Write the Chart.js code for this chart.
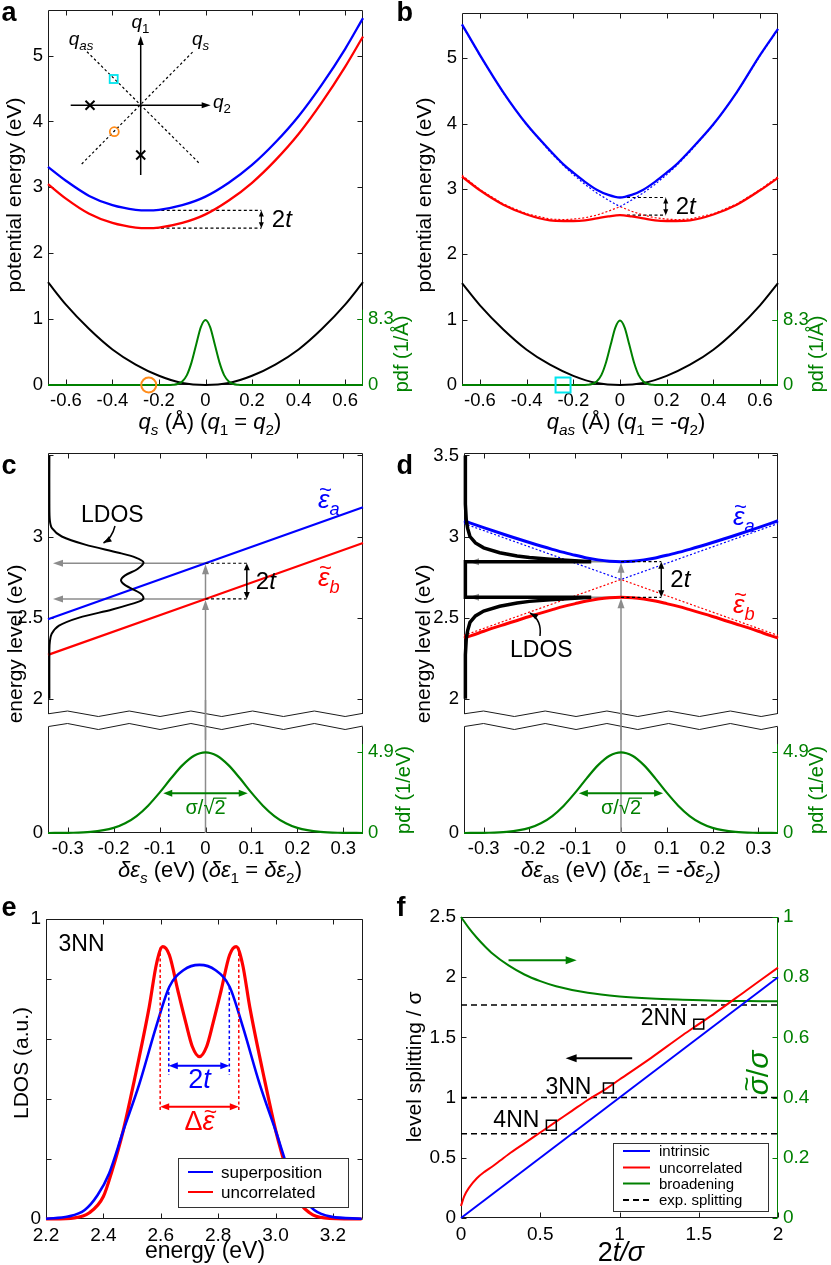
<!DOCTYPE html>
<html>
<head>
<meta charset="utf-8">
<script src="https://cdn.jsdelivr.net/npm/chart.js@4.4.1/dist/chart.umd.min.js"></script>
<style>
  html, body { margin: 0; padding: 0; background: #fff; }
  body { position: relative; width: 831px; height: 1265px; overflow: hidden; }
  canvas { position: absolute; }
</style>
</head>
<body>
<canvas id="cA"></canvas>
<canvas id="cB"></canvas>
<canvas id="cCu"></canvas>
<canvas id="cCl"></canvas>
<canvas id="cDu"></canvas>
<canvas id="cDl"></canvas>
<canvas id="cE"></canvas>
<canvas id="cF"></canvas>
<script>
const FONT = '"Liberation Sans", Arial, Helvetica, sans-serif';
const BLUE = '#0000ff', RED = '#ff0000', GREEN = '#008000', GRAY = '#8c8c8c';
const ORANGE = '#ff8c1a', CYAN = '#00e5ee';

// ---- a / b : potential energy along q ----
const qTicks = [-0.6, -0.4, -0.2, 0, 0.2, 0.4, 0.6];
const qTickLabels = ['-0.6', '-0.4', '-0.2', '0', '0.2', '0.4', '0.6'];
const peTicks = [0, 1, 2, 3, 4, 5];
const peTickLabels = ['0', '1', '2', '3', '4', '5'];
const pdfQTicks = [0, 8.3];
const pdfQTickLabels = ['0', '8.3'];

const groundQ = [-0.677, -0.6, -0.5, -0.4, -0.3, -0.2, -0.1, 0, 0.1, 0.2, 0.3, 0.4, 0.5, 0.6, 0.677];
const groundE = [1.56, 1.22, 0.85, 0.54, 0.31, 0.14, 0.03, 0, 0.03, 0.14, 0.31, 0.54, 0.85, 1.22, 1.56];
const pdfQ = [-0.677, -0.16, -0.14, -0.12, -0.1, -0.08, -0.06, -0.04, -0.02, 0, 0.02, 0.04, 0.06, 0.08, 0.1, 0.12, 0.14, 0.16, 0.677];
const pdfQVal = [0, 0, 0.03, 0.12, 0.45, 1.25, 2.85, 5.1, 7.3, 8.2, 7.3, 5.1, 2.85, 1.25, 0.45, 0.12, 0.03, 0, 0];

const qsGrid = [-0.677, -0.6, -0.5, -0.4, -0.3, -0.25, -0.2, -0.1, 0, 0.1, 0.2, 0.3, 0.4, 0.5, 0.6, 0.677];
const qsUpper = [3.31, 3.10, 2.87, 2.73, 2.66, 2.65, 2.66, 2.73, 2.86, 3.07, 3.34, 3.68, 4.08, 4.56, 5.10, 5.57];
const qsLower = [3.05, 2.83, 2.60, 2.46, 2.39, 2.38, 2.39, 2.46, 2.59, 2.80, 3.07, 3.41, 3.81, 4.29, 4.83, 5.29];

const qasGrid = [-0.677, -0.6, -0.5, -0.4, -0.3, -0.24, -0.2, -0.15, -0.1, -0.05, 0, 0.05, 0.1, 0.15, 0.2, 0.24, 0.3, 0.4, 0.5, 0.6, 0.677];
const qasUpper = [5.52, 5.05, 4.48, 3.99, 3.59, 3.37, 3.25, 3.11, 2.99, 2.91, 2.87, 2.91, 2.99, 3.11, 3.25, 3.37, 3.59, 3.99, 4.48, 5.05, 5.45];
const qasLower = [3.19, 2.98, 2.76, 2.61, 2.52, 2.51, 2.51, 2.52, 2.55, 2.58, 2.60, 2.58, 2.55, 2.52, 2.51, 2.51, 2.52, 2.61, 2.76, 2.98, 3.17];
const qasDiabHi = [5.51, 5.04, 4.47, 3.98, 3.57, 3.35, 3.22, 3.07, 2.94, 2.83, 2.73, 2.83, 2.94, 3.07, 3.22, 3.35, 3.57, 3.98, 4.47, 5.04, 5.44];
const qasDiabLo = [3.21, 2.99, 2.77, 2.62, 2.54, 2.53, 2.54, 2.56, 2.60, 2.66, 2.73, 2.66, 2.60, 2.56, 2.54, 2.53, 2.54, 2.62, 2.77, 2.99, 3.19];
const markQ = [-0.244];
const markE = [0];

// ---- c / d : energy levels vs site energy shift ----
const deTicks = [-0.3, -0.2, -0.1, 0, 0.1, 0.2, 0.3];
const deTickLabels = ['-0.3', '-0.2', '-0.1', '0', '0.1', '0.2', '0.3'];
const levelTicksC = [2, 2.5, 3];
const levelTickLabelsC = ['2', '2.5', '3'];
const levelTicksD = [2, 2.5, 3, 3.5];
const levelTickLabelsD = ['2', '2.5', '3', '3.5'];
const pdfETicks = [0, 4.9];
const pdfETickLabels = ['0', '4.9'];

const deEnds = [-0.343, 0.343];
const cLevelA = [2.49, 3.18];
const cLevelB = [2.27, 2.96];
const cLdosE = [2.0, 2.3, 2.35, 2.4, 2.45, 2.5, 2.55, 2.6, 2.62, 2.65, 2.7, 2.73, 2.76, 2.8, 2.84, 2.87, 2.9, 2.95, 3.0, 3.05, 3.1, 3.2, 3.5];
const cLdosAmp = [0, 0, 0.001, 0.005, 0.021, 0.065, 0.137, 0.196, 0.205, 0.198, 0.165, 0.156, 0.165, 0.192, 0.205, 0.188, 0.151, 0.078, 0.027, 0.006, 0.001, 0, 0];

const dGrid = [-0.343, -0.3, -0.25, -0.2, -0.15, -0.125, -0.1, -0.075, -0.05, -0.025, 0, 0.025, 0.05, 0.075, 0.1, 0.125, 0.15, 0.2, 0.25, 0.3, 0.343];
const dLevelA = [3.097, 3.055, 3.008, 2.963, 2.921, 2.902, 2.884, 2.868, 2.856, 2.848, 2.845, 2.848, 2.856, 2.868, 2.884, 2.902, 2.921, 2.963, 3.008, 3.055, 3.097];
const dLevelB = [2.373, 2.416, 2.462, 2.507, 2.549, 2.569, 2.586, 2.602, 2.614, 2.622, 2.625, 2.622, 2.614, 2.602, 2.586, 2.569, 2.549, 2.507, 2.462, 2.416, 2.373];
const dDiabX = [-0.343, 0, 0.343];
const dDiabA = [3.08, 2.735, 3.08];
const dDiabB = [2.39, 2.735, 2.39];
const dLdosE = [3.5, 3.2, 3.1, 3.05, 3.0, 2.96, 2.93, 2.9, 2.88, 2.87, 2.86, 2.852, 2.845, 2.845, 2.625, 2.625, 2.618, 2.61, 2.6, 2.59, 2.57, 2.54, 2.51, 2.47, 2.42, 2.37, 2.27, 2.0];
const dLdosAmp = [0, 0, 0.002, 0.005, 0.01, 0.022, 0.04, 0.075, 0.113, 0.14, 0.185, 0.23, 0.275, 0, 0, 0.275, 0.23, 0.185, 0.14, 0.113, 0.075, 0.04, 0.022, 0.01, 0.005, 0.002, 0, 0];

const deGrid = [-0.343, -0.3, -0.25, -0.2, -0.175, -0.15, -0.125, -0.1, -0.075, -0.05, -0.025, 0, 0.025, 0.05, 0.075, 0.1, 0.125, 0.15, 0.175, 0.2, 0.25, 0.3, 0.343];
const pdfE = [0, 0.01, 0.065, 0.31, 0.59, 1.03, 1.66, 2.45, 3.32, 4.12, 4.69, 4.9, 4.69, 4.12, 3.32, 2.45, 1.66, 1.03, 0.59, 0.31, 0.065, 0.01, 0];

// ---- e : LDOS for 3NN ----
const energyTicks = [2.2, 2.4, 2.6, 2.8, 3.0, 3.2];
const energyTickLabels = ['2.2', '2.4', '2.6', '2.8', '3.0', '3.2'];
const ldosTicks = [0, 0.2, 0.4, 0.6, 0.8, 1];
const ldosTickLabels = ['0', '', '', '', '', '1'];
const eSupX = [2.2, 2.277, 2.335, 2.38, 2.42, 2.468, 2.526, 2.584, 2.63, 2.68, 2.735, 2.79, 2.84, 2.886, 2.944, 3.002, 3.05, 3.09, 3.135, 3.193, 3.3];
const eSup = [0.001, 0.008, 0.03, 0.08, 0.152, 0.29, 0.452, 0.641, 0.774, 0.83, 0.847, 0.83, 0.774, 0.641, 0.452, 0.29, 0.152, 0.08, 0.03, 0.008, 0.001];
const eUncX = [2.2, 2.3, 2.35, 2.4, 2.43, 2.468, 2.508, 2.56, 2.585, 2.607, 2.63, 2.66, 2.688, 2.71, 2.735, 2.76, 2.782, 2.81, 2.84, 2.863, 2.885, 2.91, 2.962, 3.002, 3.04, 3.07, 3.12, 3.17, 3.3];
const eUnc = [0, 0.004, 0.02, 0.075, 0.16, 0.29, 0.463, 0.708, 0.85, 0.908, 0.88, 0.76, 0.652, 0.575, 0.541, 0.575, 0.652, 0.76, 0.88, 0.908, 0.85, 0.708, 0.463, 0.29, 0.16, 0.075, 0.02, 0.004, 0];

// ---- f : level splitting vs 2t/sigma ----
const ratioTicks = [0, 0.5, 1, 1.5, 2];
const ratioTickLabels = ['0', '0.5', '1', '1.5', '2'];
const splitTicks = [0, 0.5, 1, 1.5, 2, 2.5];
const splitTickLabels = ['0', '0.5', '1', '1.5', '2', '2.5'];
const broadTicks = [0, 0.2, 0.4, 0.6, 0.8, 1];
const broadTickLabels = ['0', '0.2', '0.4', '0.6', '0.8', '1'];
const fIntrX = [0, 2];
const fIntr = [0, 2];
const fUncX = [0, 0.02, 0.05, 0.1, 0.15, 0.2, 0.25, 0.3, 0.4, 0.5, 0.6, 0.7, 0.8, 0.9, 1.0, 1.2, 1.4, 1.5, 1.6, 1.8, 2.0];
const fUnc = [0.1, 0.18, 0.25, 0.33, 0.385, 0.43, 0.48, 0.53, 0.62, 0.71, 0.80, 0.89, 0.98, 1.06, 1.15, 1.33, 1.52, 1.61, 1.70, 1.89, 2.08];
const fBroadX = [0, 0.05, 0.1, 0.15, 0.2, 0.3, 0.4, 0.5, 0.6, 0.8, 1.0, 1.2, 1.4, 1.6, 1.8, 2.0];
const fBroad = [1.0, 0.963, 0.931, 0.903, 0.878, 0.839, 0.809, 0.787, 0.770, 0.748, 0.736, 0.729, 0.725, 0.722, 0.721, 0.72];
const expSplit = [0.7, 1.0, 1.77];
const nnNames = ['4NN', '3NN', '2NN'];
const nnX = [0.57, 0.93, 1.5];
const nnY = [0.77, 1.08, 1.61];

Chart.defaults.font.family = FONT;
Chart.defaults.font.size = 18;
Chart.defaults.color = '#000';
Chart.defaults.animation = false;
Chart.defaults.responsive = false;
Chart.defaults.events = [];
Chart.defaults.plugins.legend.display = false;
Chart.defaults.plugins.tooltip.enabled = false;
Chart.defaults.elements.point.radius = 0;

const xy = (xs, ys) => xs.map((x, i) => ({ x, y: ys[i] }));

function ln(data, color, w, extra) {
  return Object.assign({ data, borderColor: color, borderWidth: w, pointRadius: 0, fill: false,
    cubicInterpolationMode: 'monotone', clip: 4 }, extra);
}
function mark(xs, ys, style, r, color, w) {
  return { data: xy(xs, ys), showLine: false, pointStyle: style, pointRadius: r,
    pointBorderColor: color, pointBorderWidth: w || 2, pointBackgroundColor: 'rgba(0,0,0,0)', clip: false };
}

function axis(min, max, ticks, labels, o = {}) {
  return {
    type: 'linear', min, max, position: o.position, display: o.display !== false,
    grid: { display: false, drawTicks: false }, border: { display: false },
    afterBuildTicks: s => { s.ticks = ticks.map(v => ({ value: v })); },
    afterFit: s => {
      if (s.isHorizontal()) s.height = o.size; else s.width = o.size;
      s.paddingTop = s.paddingBottom = s.paddingLeft = s.paddingRight = 0;
    },
    ticks: { autoSkip: false, maxRotation: 0, minRotation: 0, padding: 5,
      color: o.color || '#000', font: { size: o.fs || 18.5 },
      callback: (v, i) => labels[i] ?? '' },
  };
}

function zigzag(ctx, x0, x1, yHi, yLo) {
  const step = 30.85;
  ctx.beginPath();
  ctx.moveTo(x0, (yHi + yLo) / 2);
  let k = 0, x = x0 + 19;
  while (x < x1) { ctx.lineTo(x, k % 2 ? yLo : yHi); x += step; k++; }
  const py = (k - 1) % 2 ? yLo : yHi, ny = k % 2 ? yLo : yHi;
  ctx.lineTo(x1, py + (ny - py) * (x1 - (x - step)) / step);
  ctx.stroke();
}

function frame(o) {
  return {
    id: 'frame',
    beforeDatasetsDraw(chart) {
      const { ctx, chartArea: a, scales } = chart;
      const L = Math.round(a.left) + 0.5, R = Math.round(a.right) - 0.5;
      const T = Math.round(a.top) + 0.5, B = Math.round(a.bottom) - 0.5;
      const seg = (x1, y1, x2, y2) => { ctx.beginPath(); ctx.moveTo(x1, y1); ctx.lineTo(x2, y2); ctx.stroke(); };
      ctx.save();
      ctx.strokeStyle = '#1a1a1a'; ctx.lineWidth = 1;
      const top = o.zigTop ? T + 3 : T, bot = o.zigBottom ? B - 2.5 : B;
      seg(L, top, L, bot); seg(R, top, R, bot);
      if (!o.zigTop) seg(L, T, R, T);
      if (!o.zigBottom) seg(L, B, R, B);
      if (o.zigTop) zigzag(ctx, L, R, T, T + 6);
      if (o.zigBottom) zigzag(ctx, L, R, B - 5.5, B);
      const TL = 5;
      (o.x || []).forEach(v => {
        const p = Math.round(scales.x.getPixelForValue(v)) + 0.5;
        if (o.xs.includes('b')) seg(p, B, p, B - TL);
        if (o.xs.includes('t')) seg(p, T, p, T + TL);
      });
      (o.y || []).forEach(v => {
        const p = Math.round(scales.y.getPixelForValue(v)) + 0.5;
        if (o.ys.includes('l')) seg(L, p, L + TL, p);
        if (o.ys.includes('r')) seg(R, p, R - TL, p);
      });
      ctx.strokeStyle = GREEN;
      if (o.green) seg(R, scales.y2.getPixelForValue(o.green[0]), R, scales.y2.getPixelForValue(o.green[1]));
      (o.y2 || []).forEach(v => {
        const p = Math.round(scales.y2.getPixelForValue(v)) + 0.5;
        seg(R, p, R - TL, p);
      });
      ctx.restore();
    }
  };
}

function deco(box, under, over) {
  const run = (chart, fn) => {
    if (!fn) return;
    const ctx = chart.ctx;
    const P = (x, y, ax = 'y') => [chart.scales.x.getPixelForValue(x) + box[0], chart.scales[ax].getPixelForValue(y) + box[1]];
    ctx.save(); ctx.translate(-box[0], -box[1]); fn(ctx, P, chart); ctx.restore();
  };
  return { id: 'deco', beforeDatasetsDraw: c => run(c, under), afterDraw: c => run(c, over) };
}

function build(id, box, area, o) {
  const cv = document.getElementById(id);
  cv.width = box[2]; cv.height = box[3];
  cv.style.left = box[0] + 'px'; cv.style.top = box[1] + 'px';
  const t = area[1] - box[1], r = box[0] + box[2] - area[2], b = box[1] + box[3] - area[3];
  const hideX = o.scales.x.display === false;
  return new Chart(cv.getContext('2d'), {
    type: 'line',
    data: { datasets: o.datasets },
    options: {
      layout: { padding: { top: t, left: 0, right: o.scales.y2 ? 0 : r, bottom: hideX ? b : 0 } },
      scales: o.scales,
    },
    plugins: [frame(o.frame), deco(box, o.under, o.over)],
  });
}
const mg = (box, area) => ({ l: area[0] - box[0], t: area[1] - box[1], r: box[0] + box[2] - area[2], b: box[1] + box[3] - area[3] });

// ---------- drawing helpers ----------
function rich(ctx, x, y, parts, o) {
  const size = o.size || 20;
  ctx.save();
  ctx.translate(x, y);
  if (o.rot) ctx.rotate(o.rot);
  ctx.textBaseline = 'alphabetic'; ctx.textAlign = 'left';
  const segs = parts.map(p => {
    const sz = (p.sub || p.sup) ? size * 0.7 : size;
    const font = (p.i ? 'italic ' : '') + (p.b ? 'bold ' : '') + sz + 'px ' + FONT;
    ctx.font = font;
    return { p, sz, font, w: ctx.measureText(p.t).width };
  });
  const tot = segs.reduce((s, g) => s + g.w, 0);
  let cx = o.align === 'left' ? 0 : o.align === 'right' ? -tot : -tot / 2;
  ctx.fillStyle = o.color || '#000';
  ctx.strokeStyle = o.color || '#000';
  for (const g of segs) {
    const dy = g.p.sub ? size * 0.28 : g.p.sup ? -size * 0.38 : 0;
    ctx.font = g.font;
    ctx.fillText(g.p.t, cx, dy);
    if (g.p.tilde) {
      ctx.font = (g.sz * 0.85) + 'px ' + FONT;
      const tw = ctx.measureText('~').width;
      ctx.fillText('~', cx + (g.w - tw) / 2 + g.sz * 0.07, dy - g.sz * 0.42);
    }
    if (g.p.over) {
      ctx.lineWidth = Math.max(1, g.sz / 16);
      ctx.beginPath(); ctx.moveTo(cx - 1, dy - g.sz * 0.8); ctx.lineTo(cx + g.w + 1, dy - g.sz * 0.8); ctx.stroke();
    }
    cx += g.w;
  }
  ctx.restore();
}
function plabel(ctx, t, x, y) {
  ctx.save(); ctx.font = 'bold 27px ' + FONT; ctx.fillStyle = '#000';
  ctx.textBaseline = 'alphabetic'; ctx.textAlign = 'left'; ctx.fillText(t, x, y); ctx.restore();
}
function seg(ctx, x1, y1, x2, y2, color, lw, dash) {
  ctx.save(); ctx.strokeStyle = color || '#000'; ctx.lineWidth = lw || 1.2; ctx.setLineDash(dash || []);
  ctx.beginPath(); ctx.moveTo(x1, y1); ctx.lineTo(x2, y2); ctx.stroke(); ctx.restore();
}
const dashed = (ctx, x1, y1, x2, y2, color, lw) => seg(ctx, x1, y1, x2, y2, color || '#000', lw || 1.2, [3, 2.5]);
function head(ctx, x1, y1, x2, y2, len, wid, color) {
  const ang = Math.atan2(y2 - y1, x2 - x1);
  ctx.save(); ctx.fillStyle = color; ctx.translate(x2, y2); ctx.rotate(ang);
  ctx.beginPath(); ctx.moveTo(0, 0); ctx.lineTo(-len, wid / 2); ctx.lineTo(-len, -wid / 2); ctx.closePath(); ctx.fill();
  ctx.restore();
}
function arrow(ctx, x1, y1, x2, y2, o) {
  const color = o.color || '#000', len = o.len || 8, wid = o.wid || 6;
  const ang = Math.atan2(y2 - y1, x2 - x1), c = Math.cos(ang), s = Math.sin(ang);
  const sx = o.both ? x1 + c * len * 0.8 : x1, sy = o.both ? y1 + s * len * 0.8 : y1;
  seg(ctx, sx, sy, x2 - c * len * 0.8, y2 - s * len * 0.8, color, o.lw || 1.5);
  head(ctx, x1, y1, x2, y2, len, wid, color);
  if (o.both) head(ctx, x2, y2, x1, y1, len, wid, color);
}
function curvedArrow(ctx, x1, y1, cx, cy, x2, y2, color) {
  ctx.save(); ctx.strokeStyle = color; ctx.lineWidth = 1.5;
  ctx.beginPath(); ctx.moveTo(x1, y1); ctx.quadraticCurveTo(cx, cy, x2, y2); ctx.stroke(); ctx.restore();
  head(ctx, cx, cy, x2, y2, 8, 6, color);
}
function legendBox(ctx, rect, items, o) {
  const [x0, y0, x1, y1] = rect;
  ctx.save();
  ctx.fillStyle = '#fff'; ctx.fillRect(x0, y0, x1 - x0, y1 - y0);
  ctx.strokeStyle = '#333'; ctx.lineWidth = 1; ctx.strokeRect(Math.round(x0) + 0.5, Math.round(y0) + 0.5, Math.round(x1 - x0), Math.round(y1 - y0));
  ctx.font = o.fs + 'px ' + FONT; ctx.textBaseline = 'middle'; ctx.textAlign = 'left';
  items.forEach((it, i) => {
    const y = o.ys[i];
    ctx.strokeStyle = it.borderColor; ctx.lineWidth = 2; ctx.setLineDash(it.borderDash || []);
    ctx.beginPath(); ctx.moveTo(o.lx[0], y); ctx.lineTo(o.lx[1], y); ctx.stroke();
    ctx.setLineDash([]); ctx.fillStyle = '#000'; ctx.fillText(it.label, o.tx, y + 1);
  });
  ctx.restore();
}
const ROT = -Math.PI / 2;

// ================= panel a =================
const boxA = [0, 0, 415, 440], areaA = [48, 5, 363, 385], mA = mg(boxA, areaA);
build('cA', boxA, areaA, {
  datasets: [
    mark(markQ, markE, 'circle', 7.5, ORANGE),
    ln(xy(pdfQ, pdfQVal), GREEN, 2, { yAxisID: 'y2' }),
    ln(xy(qsGrid, qsUpper), BLUE, 2.3),
    ln(xy(qsGrid, qsLower), RED, 2.3),
    ln(xy(groundQ, groundE), '#000', 2),
  ],
  scales: {
    x: axis(-0.677, 0.677, qTicks, qTickLabels, { size: mA.b }),
    y: axis(0, 5.7, peTicks, peTickLabels, { size: mA.l }),
    y2: axis(0, 5.7 * 8.3, pdfQTicks, pdfQTickLabels, { size: mA.r, position: 'right', color: GREEN }),
  },
  frame: { x: qTicks, xs: 'bt', y: peTicks, ys: 'lr', y2: [8.3], green: [0, 9.5] },
  under(ctx, P) {
    const eA = Math.min(...qsUpper), eB = Math.min(...qsLower);
    const [xa, ya] = P(-0.19, eA), [xb] = P(0.24, eA), [xc, yb] = P(-0.215, eB);
    dashed(ctx, xa, ya, xb, ya); dashed(ctx, xc, yb, xb, yb);
  },
  over(ctx, P) {
    plabel(ctx, 'a', 1.5, 21);
    const eA = Math.min(...qsUpper), eB = Math.min(...qsLower);
    const [xb, ya] = P(0.24, eA), yb = P(0, eB)[1];
    arrow(ctx, xb, ya, xb, yb, { both: true, lw: 1.2, len: 6, wid: 5 });
    rich(ctx, xb + 10.5, (ya + yb) / 2 + 8, [{ t: '2' }, { t: 't', i: 1 }], { size: 24, align: 'left' });
    rich(ctx, 210, 429, [{ t: 'q', i: 1 }, { t: 's', i: 1, sub: 1 }, { t: ' (Å) (' }, { t: 'q', i: 1 }, { t: '1', sub: 1 }, { t: ' = ' }, { t: 'q', i: 1 }, { t: '2', sub: 1 }, { t: ')' }], { size: 22 });
    rich(ctx, 21, 195, [{ t: 'potential energy (eV)' }], { size: 21, rot: ROT });
    rich(ctx, 408, 354, [{ t: 'pdf (1/Å)' }], { size: 20, rot: ROT, color: GREEN });
    // inset: coordinate sketch
    arrow(ctx, 140.7, 175, 140.7, 36, { lw: 1.5, len: 9, wid: 6 });
    arrow(ctx, 70.7, 105.3, 210.7, 105.3, { lw: 1.5, len: 9, wid: 6 });
    seg(ctx, 81.7, 164, 193, 51.7, '#000', 1.2, [2.5, 2.5]);
    seg(ctx, 87, 51.7, 200, 164, '#000', 1.2, [2.5, 2.5]);
    rich(ctx, 140.5, 28, [{ t: 'q', i: 1 }, { t: '1', sub: 1 }], { size: 19 });
    rich(ctx, 81, 45, [{ t: 'q', i: 1 }, { t: 'as', i: 1, sub: 1 }], { size: 19 });
    rich(ctx, 200.5, 45, [{ t: 'q', i: 1 }, { t: 's', i: 1, sub: 1 }], { size: 19 });
    rich(ctx, 213, 108, [{ t: 'q', i: 1 }, { t: '2', sub: 1 }], { size: 19, align: 'left' });
    [[90, 105.3], [140.7, 155]].forEach(([x, y]) => {
      seg(ctx, x - 4.5, y - 4.5, x + 4.5, y + 4.5, '#000', 2); seg(ctx, x - 4.5, y + 4.5, x + 4.5, y - 4.5, '#000', 2);
    });
    ctx.strokeStyle = CYAN; ctx.lineWidth = 1.8; ctx.strokeRect(109.7, 75, 8, 8);
    ctx.strokeStyle = ORANGE; ctx.beginPath(); ctx.arc(114.3, 131.7, 4.5, 0, 2 * Math.PI); ctx.stroke();
  },
});

// ================= panel b =================
const boxB = [390, 0, 441, 440], areaB = [462, 5, 778, 385], mB = mg(boxB, areaB);
build('cB', boxB, areaB, {
  datasets: [
    mark(markQ, markE, 'rect', 10.6, CYAN),
    ln(xy(pdfQ, pdfQVal), GREEN, 2, { yAxisID: 'y2' }),
    ln(xy(qasGrid, qasUpper), BLUE, 2.3),
    ln(xy(qasGrid, qasLower), RED, 2.3),
    ln(xy(qasGrid, qasDiabHi), BLUE, 1.2, { cubicInterpolationMode: 'default', tension: 0, borderDash: [2, 2] }),
    ln(xy(qasGrid, qasDiabLo), RED, 1.2, { cubicInterpolationMode: 'default', tension: 0, borderDash: [2, 2] }),
    ln(xy(groundQ, groundE), '#000', 2),
  ],
  scales: {
    x: axis(-0.677, 0.677, qTicks, qTickLabels, { size: mB.b }),
    y: axis(0, 5.7, peTicks, peTickLabels, { size: mB.l }),
    y2: axis(0, 5.7 * 8.3, pdfQTicks, pdfQTickLabels, { size: mB.r, position: 'right', color: GREEN }),
  },
  frame: { x: qTicks, xs: 'bt', y: peTicks, ys: 'lr', y2: [8.3], green: [0, 9.5] },
  under(ctx, P) {
    const [xa, ya] = P(0.03, qasUpper[10]), [xb, yb] = P(0.196, qasLower[10]);
    dashed(ctx, xa, ya, xb, ya); dashed(ctx, xa, yb, xb, yb);
  },
  over(ctx, P) {
    plabel(ctx, 'b', 396.5, 21);
    const [xb, ya] = P(0.196, qasUpper[10]), yb = P(0, qasLower[10])[1];
    arrow(ctx, xb, ya, xb, yb, { both: true, lw: 1.2, len: 6, wid: 5 });
    rich(ctx, xb + 10, (ya + yb) / 2 + 8, [{ t: '2' }, { t: 't', i: 1 }], { size: 24, align: 'left' });
    rich(ctx, 626, 429, [{ t: 'q', i: 1 }, { t: 'as', i: 1, sub: 1 }, { t: ' (Å) (' }, { t: 'q', i: 1 }, { t: '1', sub: 1 }, { t: ' = -' }, { t: 'q', i: 1 }, { t: '2', sub: 1 }, { t: ')' }], { size: 22 });
    rich(ctx, 431, 195, [{ t: 'potential energy (eV)' }], { size: 21, rot: ROT });
    rich(ctx, 823, 354, [{ t: 'pdf (1/Å)' }], { size: 20, rot: ROT, color: GREEN });
  },
});

// ============ panel c / d : upper (levels) ============
function levelsUnder(lvA, lvB, canvasBottom) {
  return (ctx, P) => {
    const [x0, yA] = P(0, lvA), yB = P(0, lvB)[1], xL = P(deEnds[0], 0)[0] + 5;
    arrow(ctx, x0, canvasBottom, x0, yB + 1, { color: GRAY, lw: 1.5, len: 10, wid: 7 });
    arrow(ctx, x0, yB, x0, yA + 1, { color: GRAY, lw: 1.5, len: 10, wid: 7 });
    arrow(ctx, x0, yA, xL, yA, { color: GRAY, lw: 1.5, len: 10, wid: 7 });
    arrow(ctx, x0, yB, xL, yB, { color: GRAY, lw: 1.5, len: 10, wid: 7 });
  };
}
function levelsOver(lvA, lvB, arrX) {
  return (ctx, P) => {
    const [x0, yA] = P(0, lvA), yB = P(0, lvB)[1], x1 = P(arrX, 0)[0];
    dashed(ctx, x0, yA, x1, yA); dashed(ctx, x0, yB, x1, yB);
    arrow(ctx, x1, yA, x1, yB, { both: true, lw: 1.5, len: 7, wid: 6 });
    rich(ctx, x1 + 9, (yA + yB) / 2 + 8, [{ t: '2' }, { t: 't', i: 1 }], { size: 24, align: 'left' });
  };
}

const boxCu = [0, 440, 415, 300], areaCu = [48, 453, 363, 717], mCu = mg(boxCu, areaCu);
const lvCA = (cLevelA[0] + cLevelA[1]) / 2, lvCB = (cLevelB[0] + cLevelB[1]) / 2;
build('cCu', boxCu, areaCu, {
  datasets: [
    ln(cLdosE.map((e, i) => ({ x: -0.34 + cLdosAmp[i], y: e })), '#000', 2, { cubicInterpolationMode: 'default', tension: 0.3 }),
    ln(xy(deEnds, cLevelA), BLUE, 2.2),
    ln(xy(deEnds, cLevelB), RED, 2.2),
  ],
  scales: {
    x: axis(deEnds[0], deEnds[1], deTicks, deTickLabels, { size: 0, display: false }),
    y: axis(1.887, 3.515, levelTicksC, levelTickLabelsC, { size: mCu.l }),
  },
  frame: { x: deTicks, xs: 't', y: levelTicksD, ys: 'lr', zigBottom: true },
  under: levelsUnder(lvCA, lvCB, 740),
  over(ctx, P) {
    levelsOver(lvCA, lvCB, 0.09)(ctx, P);
    plabel(ctx, 'c', 1.5, 473.5);
    rich(ctx, 22, 644, [{ t: 'energy level (eV)' }], { size: 21, rot: ROT });
    rich(ctx, 318, 508, [{ t: 'ε', i: 1, tilde: 1 }, { t: 'a', i: 1, sub: 1 }], { size: 26, color: BLUE, align: 'left' });
    rich(ctx, 318, 586, [{ t: 'ε', i: 1, tilde: 1 }, { t: 'b', i: 1, sub: 1 }], { size: 26, color: RED, align: 'left' });
    rich(ctx, 81, 522, [{ t: 'LDOS' }], { size: 23, align: 'left' });
    curvedArrow(ctx, 115, 526, 112, 538, 103.5, 543, '#000');
  },
});

const boxDu = [390, 440, 441, 300], areaDu = [464, 453, 778, 717], mDu = mg(boxDu, areaDu);
const lvDA = dLevelA[10], lvDB = dLevelB[10];
build('cDu', boxDu, areaDu, {
  datasets: [
    ln(dLdosE.map((e, i) => ({ x: -0.34 + dLdosAmp[i], y: e })), '#000', 3.5, { cubicInterpolationMode: 'default', tension: 0 }),
    ln(xy(dGrid, dLevelA), BLUE, 3),
    ln(xy(dGrid, dLevelB), RED, 3),
    ln(xy(dDiabX, dDiabA), BLUE, 1.2, { cubicInterpolationMode: 'default', tension: 0, borderDash: [2, 2] }),
    ln(xy(dDiabX, dDiabB), RED, 1.2, { cubicInterpolationMode: 'default', tension: 0, borderDash: [2, 2] }),
  ],
  scales: {
    x: axis(deEnds[0], deEnds[1], deTicks, deTickLabels, { size: 0, display: false }),
    y: axis(1.887, 3.515, levelTicksD, levelTickLabelsD, { size: mDu.l }),
  },
  frame: { x: deTicks, xs: 't', y: levelTicksD, ys: 'lr', zigBottom: true },
  under: levelsUnder(lvDA, lvDB, 740),
  over(ctx, P) {
    levelsOver(lvDA, lvDB, 0.088)(ctx, P);
    plabel(ctx, 'd', 396.5, 473.5);
    rich(ctx, 430, 644, [{ t: 'energy level (eV)' }], { size: 21, rot: ROT });
    rich(ctx, 733, 525, [{ t: 'ε', i: 1, tilde: 1 }, { t: 'a', i: 1, sub: 1 }], { size: 26, color: BLUE, align: 'left' });
    rich(ctx, 733, 613, [{ t: 'ε', i: 1, tilde: 1 }, { t: 'b', i: 1, sub: 1 }], { size: 26, color: RED, align: 'left' });
    rich(ctx, 510, 657, [{ t: 'LDOS' }], { size: 23, align: 'left' });
    curvedArrow(ctx, 540, 636, 542, 620, 530, 613, '#000');
  },
});

// ============ panel c / d : lower (pdf) ============
function pdfPanel(id, box, area, xTitle, titleX, rightX) {
  const m = mg(box, area);
  build(id, box, area, {
    datasets: [ln(xy(deGrid, pdfE), GREEN, 2.2)],
    scales: {
      x: axis(deEnds[0], deEnds[1], deTicks, deTickLabels, { size: m.b }),
      y: axis(0, 6.68, [0], ['0'], { size: m.l }),
      y2: axis(0, 6.68, pdfETicks, pdfETickLabels, { size: m.r, position: 'right', color: GREEN }),
    },
    frame: { x: deTicks, xs: 'b', y: [], ys: 'l', y2: [4.9], green: [0, 5.4], zigTop: true },
    under(ctx, P) {
      const [x0, y0] = P(0, 0);
      seg(ctx, x0, y0, x0, box[1], GRAY, 1.5);
    },
    over(ctx, P) {
      const [xl, yh] = P(-0.092, pdfE[11] / 2 - 0.03), xr = P(0.092, 0)[0];
      arrow(ctx, xl, yh, xr, yh, { both: true, color: GREEN, lw: 2, len: 9, wid: 7 });
      rich(ctx, P(0, 0)[0], yh + 21, [{ t: 'σ/√' }, { t: '2', over: 1 }], { size: 20, color: GREEN });
      rich(ctx, titleX, 877, xTitle, { size: 22 });
      rich(ctx, rightX, 790, [{ t: 'pdf (1/eV)' }], { size: 20, rot: ROT, color: GREEN });
    },
  });
}
pdfPanel('cCl', [0, 700, 415, 185], [48, 723, 363, 833],
  [{ t: 'δε', i: 1 }, { t: 's', i: 1, sub: 1 }, { t: ' (eV) (' }, { t: 'δε', i: 1 }, { t: '1', sub: 1 }, { t: ' = ' }, { t: 'δε', i: 1 }, { t: '2', sub: 1 }, { t: ')' }], 210, 410);
pdfPanel('cDl', [390, 700, 441, 185], [464, 723, 778, 833],
  [{ t: 'δε', i: 1 }, { t: 'as', sub: 1 }, { t: ' (eV) (' }, { t: 'δε', i: 1 }, { t: '1', sub: 1 }, { t: ' = -' }, { t: 'δε', i: 1 }, { t: '2', sub: 1 }, { t: ')' }], 621, 823);

// ================= panel e =================
const boxE = [0, 885, 415, 380], areaE = [46, 919, 363, 1219], mE = mg(boxE, areaE);
build('cE', boxE, areaE, {
  datasets: [
    ln(xy(eSupX, eSup), BLUE, 2.6, { label: 'superposition' }),
    ln(xy(eUncX, eUnc), RED, 3.2, { label: 'uncorrelated' }),
  ],
  scales: {
    x: axis(2.2, 3.305, energyTicks, energyTickLabels, { size: mE.b, fs: 19 }),
    y: axis(0, 1, ldosTicks, ldosTickLabels, { size: mE.l, fs: 19 }),
  },
  frame: { x: energyTicks, xs: 'bt', y: ldosTicks, ys: 'lr' },
  over(ctx, P, chart) {
    plabel(ctx, 'e', 1.5, 915.5);
    rich(ctx, 205, 1258, [{ t: 'energy (eV)' }], { size: 23 });
    rich(ctx, 27.5, 1063, [{ t: 'LDOS (a.u.)' }], { size: 21, rot: ROT });
    rich(ctx, 58.5, 951, [{ t: '3NN' }], { size: 23, align: 'left' });
    // uncorrelated splitting
    const [r1, rt] = P(2.598, 0.905), [r2] = P(2.872, 0), rb = P(0, 0.36)[1], ra = P(0, 0.374)[1];
    dashed(ctx, r1, rt, r1, rb, RED, 1.5); dashed(ctx, r2, rt, r2, rb, RED, 1.5);
    arrow(ctx, r1, ra, r2, ra, { both: true, color: RED, lw: 2, len: 9, wid: 7 });
    rich(ctx, P(2.735, 0)[0], P(0, 0.297)[1], [{ t: 'Δ' }, { t: 'ε', i: 1, tilde: 1 }], { size: 27, color: RED });
    // intrinsic splitting
    const [b1, bt] = P(2.628, 0.775), [b2] = P(2.839, 0), bb = P(0, 0.48)[1], ba = P(0, 0.511)[1];
    dashed(ctx, b1, bt, b1, bb, BLUE, 1.5); dashed(ctx, b2, bt, b2, bb, BLUE, 1.5);
    arrow(ctx, b1, ba, b2, ba, { both: true, color: BLUE, lw: 2, len: 9, wid: 7 });
    rich(ctx, P(2.735, 0)[0], P(0, 0.437)[1], [{ t: '2' }, { t: 't', i: 1 }], { size: 27, color: BLUE });
    legendBox(ctx, [178, 1158, 348, 1207], chart.data.datasets, { fs: 17, ys: [1172, 1192], lx: [188, 213], tx: 221 });
  },
});

// ================= panel f =================
const boxF = [390, 885, 441, 380], areaF = [461, 917, 778, 1218], mF = mg(boxF, areaF);
build('cF', boxF, areaF, {
  datasets: [
    mark(nnX, nnY, 'rect', 7, '#000', 1.5),
    ln(xy(fIntrX, fIntr), BLUE, 2, { label: 'intrinsic', cubicInterpolationMode: 'default', tension: 0 }),
    ln(xy(fUncX, fUnc), RED, 2, { label: 'uncorrelated' }),
    ln(xy(fBroadX, fBroad), GREEN, 2, { label: 'broadening', yAxisID: 'y2' }),
    ...expSplit.map((v, i) => ln(xy([0, 2], [v, v]), '#000', 1.5, { label: i === 0 ? 'exp. splitting' : '', borderDash: [6, 4], cubicInterpolationMode: 'default', tension: 0 })),
  ],
  scales: {
    x: axis(0, 2, ratioTicks, ratioTickLabels, { size: mF.b, fs: 19 }),
    y: axis(0, 2.5, splitTicks, splitTickLabels, { size: mF.l, fs: 19 }),
    y2: axis(0, 1, broadTicks, broadTickLabels, { size: mF.r, fs: 19, position: 'right', color: GREEN }),
  },
  frame: { x: ratioTicks, xs: 'bt', y: splitTicks, ys: 'l', y2: broadTicks, green: [0, 1] },
  over(ctx, P, chart) {
    plabel(ctx, 'f', 396.5, 915.5);
    rich(ctx, 621, 1261, [{ t: '2' }, { t: 't/', i: 1 }, { t: 'σ', i: 1 }], { size: 27 });
    rich(ctx, 421, 1067, [{ t: 'level splitting / σ' }], { size: 21, rot: ROT });
    rich(ctx, 768, 1073, [{ t: 'σ', i: 1, tilde: 1 }, { t: '/' }, { t: 'σ', i: 1 }], { size: 30, rot: ROT, color: GREEN });
    const offs = [[-12, 2], [-17, 6], [-12, 1]];
    nnNames.forEach((n, i) => {
      const [x, y] = P(nnX[i], nnY[i]);
      rich(ctx, x + offs[i][0], y + offs[i][1], [{ t: n }], { size: 23, align: 'right' });
    });
    const [g1, gy] = P(0.3, 2.14), [g2] = P(0.73, 2.14);
    arrow(ctx, g1, gy, g2, gy, { color: GREEN, lw: 2, len: 11, wid: 8 });
    const [k1, ky] = P(1.08, 1.326), [k2] = P(0.66, 1.326);
    arrow(ctx, k1, ky, k2, ky, { color: '#000', lw: 2, len: 11, wid: 8 });
    const items = chart.data.datasets.slice(1, 5);
    legendBox(ctx, [613, 1143, 768, 1211], items, { fs: 15, ys: [1151, 1167.5, 1183.5, 1200], lx: [623, 650], tx: 659 });
  },
});
</script>
</body>
</html>
